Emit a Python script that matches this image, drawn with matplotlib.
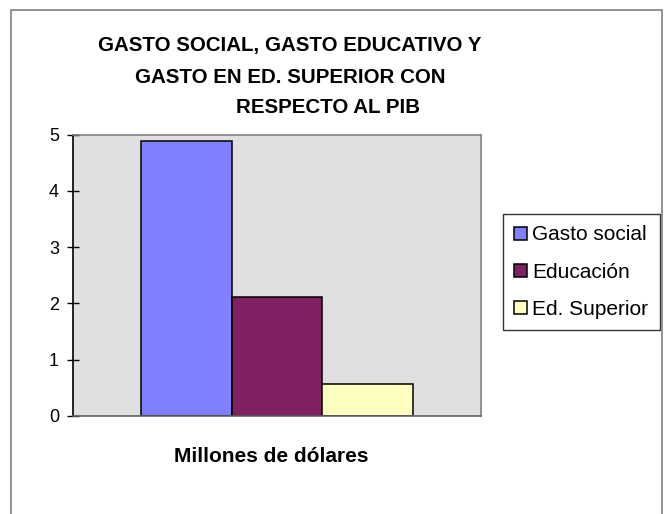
import matplotlib
matplotlib.use('Agg')
from matplotlib import pyplot as plt
from matplotlib.patches import Rectangle

# data
series = ['Gasto social', 'Educación', 'Ed. Superior']
values = [4.88, 2.12, 0.56]
colors = ['#8080FF', '#802060', '#FFFFC0']
title_lines = ['GASTO SOCIAL, GASTO EDUCATIVO Y',
               'GASTO EN ED. SUPERIOR CON',
               'RESPECTO AL PIB']
xlabel = 'Millones de dólares'

plt.rcParams['font.family'] = ['Liberation Sans', 'DejaVu Sans']

W, H = 664, 514
fig = plt.figure(figsize=(W / 100, H / 100), dpi=100)

# outer chart border
fig.patches.append(Rectangle((11 / W, -0.02), 651 / W, 1 - 10 / H + 0.02,
                             transform=fig.transFigure, fill=False,
                             edgecolor='#808080', linewidth=1.2))

ax = fig.add_axes([73 / W, 1 - 415.7 / H, 408 / W, 281 / H])
ax.set_facecolor('#E0E0E0')

for i, (name, v, c) in enumerate(zip(series, values, colors)):
    ax.bar(i, v, width=1.0, color=c, edgecolor='black', linewidth=1.1,
           label=name)

ax.set_xlim(-1.25, 3.25)
ax.set_ylim(0, 5)
ax.set_yticks(range(0, 6))
ax.set_xticks([])
ax.tick_params(axis='y', direction='inout', length=8, width=1,
               labelsize=13, pad=6)

for s in ['top', 'right']:
    ax.spines[s].set_color('#808080')
    ax.spines[s].set_linewidth(1.2)
ax.spines['left'].set_color('black')
ax.spines['left'].set_linewidth(1.2)
ax.spines['bottom'].set_color('#606060')
ax.spines['bottom'].set_linewidth(1.2)

# title, one text per line
centers = [290, 290, 328]
baselines = [51, 83, 113]
for line, cx, by in zip(title_lines, centers, baselines):
    fig.text(cx / W, 1 - by / H, line, ha='center', va='baseline',
             fontsize=14.8, fontweight='bold')

fig.text(271 / W, 1 - 462 / H, xlabel, ha='center', va='baseline',
         fontsize=15, fontweight='bold')

leg = ax.legend(loc='upper left', bbox_to_anchor=(503 / W, 1 - 214 / H),
                bbox_transform=fig.transFigure, fontsize=15, frameon=True,
                fancybox=False, shadow=False, borderpad=0.55,
                handlelength=0.6, handleheight=0.6, handletextpad=0.25,
                labelspacing=0.87, borderaxespad=0)
leg.get_frame().set_edgecolor('black')
leg.get_frame().set_linewidth(1.0)

fig.savefig('out.png', dpi=100, facecolor='white')
